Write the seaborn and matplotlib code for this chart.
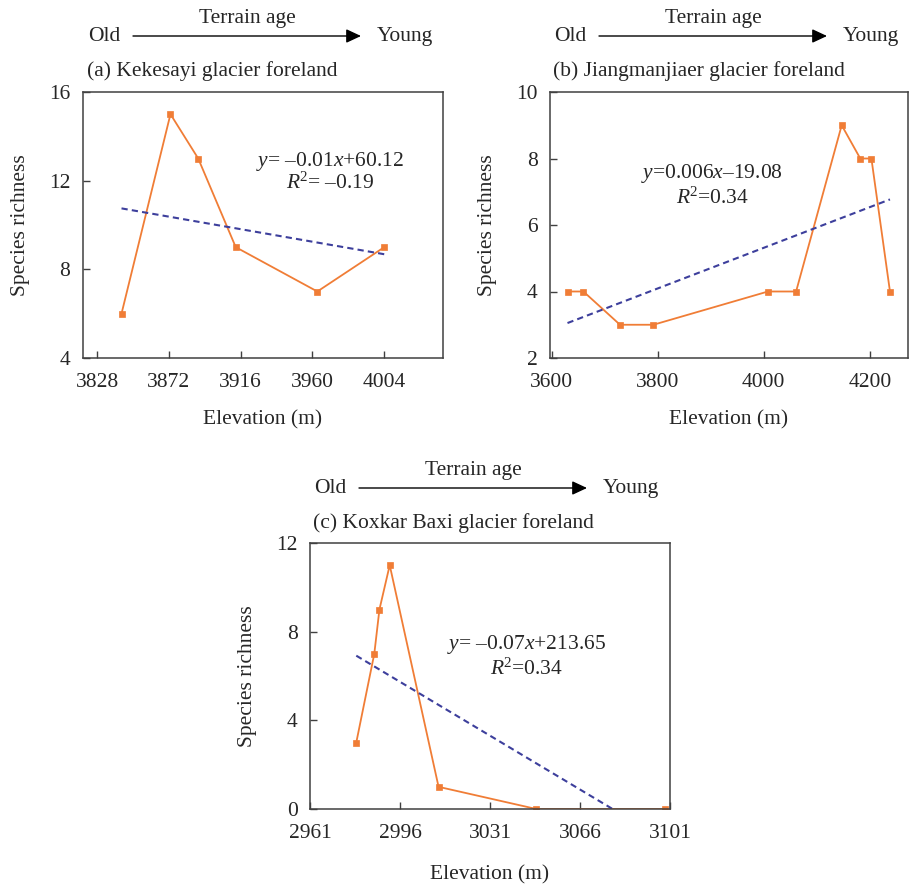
import numpy as np
import matplotlib
matplotlib.use("Agg")
import matplotlib.pyplot as plt
import seaborn as sns

# elevation (m) and species richness per glacier foreland
kek_elev = [3843, 3873, 3890, 3913, 3963, 4004]
kek_rich = [6, 15, 13, 9, 7, 9]

jiang_elev = [3630, 3660, 3729, 3792, 4008, 4061, 4147, 4182, 4203, 4238]
jiang_rich = [4, 4, 3, 3, 4, 4, 9, 8, 8, 4]

kox_elev = [2979, 2986, 2988, 2992, 3011, 3049, 3099]
kox_rich = [3, 7, 9, 11, 1, 0, 0]

titles = ["(a) Kekesayi glacier foreland",
          "(b) Jiangmanjiaer glacier foreland",
          "(c) Koxkar Baxi glacier foreland"]
equations = [("$y$= \u20130.01$x$+60.12", "$R$$^2$= \u20130.19"),
             ("$y$=0.006$x$\u201319.08", "$R$$^2$=0.34"),
             ("$y$= \u20130.07$x$+213.65", "$R$$^2$=0.34")]
x_ticks = [[3828, 3872, 3916, 3960, 4004],
           [3600, 3800, 4000, 4200],
           [2961, 2996, 3031, 3066, 3101]]
y_ticks = [[4, 8, 12, 16], [2, 4, 6, 8, 10], [0, 4, 8, 12]]

ORANGE = "#F07D36"
BLUE = "#3D3F9C"
SPINE = "#404040"
W, H = 911, 884
FS = 15.5

sns.set_style("ticks")
plt.rcParams["font.family"] = ["Liberation Serif", "DejaVu Serif"]
plt.rcParams["mathtext.fontset"] = "custom"
plt.rcParams["mathtext.rm"] = "Liberation Serif"
plt.rcParams["mathtext.it"] = "Liberation Serif:italic"
plt.rcParams["font.size"] = FS


def px(x, y):
    return x / W, 1 - y / H


def header(fig, x0, y0, title):
    # x0, y0: pixel position of the "Old" label baseline
    fig.text(*px(x0, y0), "Old", ha="left", va="baseline", fontsize=FS)
    fig.text(*px(x0 + 289, y0), "Young", ha="left", va="baseline", fontsize=FS)
    fig.text(*px(x0 + 159, y0 - 18), "Terrain age", ha="center", va="baseline",
             fontsize=FS)
    fig.add_artist(matplotlib.patches.FancyArrowPatch(
        px(x0 + 45, y0 - 5), px(x0 + 273, y0 - 5), transform=fig.transFigure,
        arrowstyle="-|>,head_length=6,head_width=2.8", color="black", lw=1.0,
        mutation_scale=1.5, shrinkA=0, shrinkB=0))
    fig.text(*px(x0 - 1, y0 + 35), title, ha="left", va="baseline", fontsize=FS)


def panel(ax, elev, rich, xlim, ylim, xt, yt, eq, eq_pos, xpad):
    sns.lineplot(x=elev, y=rich, ax=ax, color=ORANGE, marker="s", markersize=5,
                 markeredgecolor=ORANGE, markeredgewidth=0.5, linewidth=1.3)
    slope, icpt = np.polyfit(elev, rich, 1)
    xs = np.array([min(elev), max(elev)])
    ax.plot(xs, slope * xs + icpt, color=BLUE, lw=1.5, ls=(0, (3, 2)))
    ax.set_xlim(*xlim)
    ax.set_ylim(*ylim)
    ax.set_xticks(xt)
    ax.set_yticks(yt)
    ax.tick_params(direction="in", length=5, width=1.0, color=SPINE,
                   labelsize=FS)
    ax.tick_params(axis="x", pad=11)
    ax.tick_params(axis="y", pad=9)
    for s in ax.spines.values():
        s.set_visible(True)
        s.set_color(SPINE)
        s.set_linewidth(1.1)
    ax.set_xlabel("Elevation (m)", fontsize=FS, labelpad=xpad)
    ax.set_ylabel("Species richness", fontsize=FS, labelpad=14)
    ax.text(eq_pos[0], eq_pos[1], eq[0], transform=ax.transAxes, ha="center",
            va="center", fontsize=FS)
    ax.text(eq_pos[0], eq_pos[2], eq[1], transform=ax.transAxes, ha="center",
            va="center", fontsize=FS)


fig = plt.figure(figsize=(W / 100, H / 100), dpi=100)
ax_a = fig.add_axes([83 / W, 1 - 358 / H, 360 / W, 266 / H])
ax_b = fig.add_axes([550 / W, 1 - 358 / H, 358 / W, 266 / H])
ax_c = fig.add_axes([310 / W, 1 - 809 / H, 360 / W, 266 / H])

panel(ax_a, kek_elev, kek_rich, (3819.4, 4040), (4, 16), x_ticks[0], y_ticks[0],
      equations[0], (0.686, 0.737, 0.658), 13)
panel(ax_b, jiang_elev, jiang_rich, (3597, 4272), (2, 10), x_ticks[1], y_ticks[1],
      equations[1], (0.453, 0.692, 0.60), 13)
panel(ax_c, kox_elev, kox_rich, (2961, 3101), (0, 12), x_ticks[2], y_ticks[2],
      equations[2], (0.602, 0.617, 0.526), 16)

header(fig, 88, 41, titles[0])
header(fig, 554, 41, titles[1])
header(fig, 314, 493, titles[2])

fig.savefig("out.png", dpi=100)
